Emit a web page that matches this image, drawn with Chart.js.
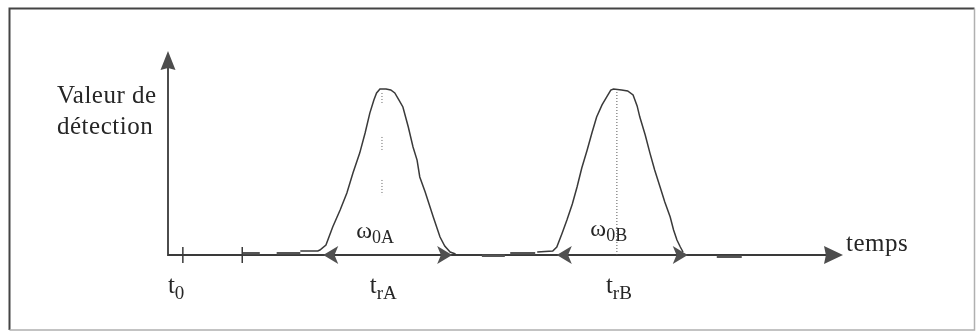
<!DOCTYPE html>
<html>
<head>
<meta charset="UTF-8">
<title>Chromatogramme</title>
<script src="https://cdn.jsdelivr.net/npm/chart.js"></script>
<style>
  html, body { margin: 0; padding: 0; background: #fff; }
  #wrap { width: 976px; height: 332px; }
</style>
</head>
<body>
<div id="wrap"><canvas id="chromato" width="976" height="332"></canvas></div>
<script>
// pic A : temps (u.a.) et valeur de détection
const tempsA = [19.6, 22.2, 22.5, 23.4, 24.4, 25.5, 26.5, 27.4, 28.4, 29.2, 29.9, 30.5, 30.9, 31.4, 32.3, 33.0, 33.6, 34.2, 34.8, 35.6, 36.3, 36.9, 37.3, 38.1, 39.3, 40.3, 41.0, 41.8, 42.6];
const signalA = [2.4, 2.4, 3.0, 6.0, 16.9, 27.1, 37.3, 49.4, 61.4, 73.5, 85.5, 93.4, 97.6, 100, 100, 99.4, 97.6, 93.4, 89.2, 77.1, 65.1, 57.2, 47.0, 38.0, 22.9, 10.8, 5.4, 1.8, 0.6];

// pic B
const tempsB = [54.7, 57.0, 57.6, 58.4, 59.1, 59.9, 60.6, 61.3, 62.1, 62.8, 63.5, 64.3, 65.0, 65.6, 66.0, 67.2, 68.1, 68.9, 69.5, 69.9, 70.7, 71.4, 72.1, 72.9, 73.6, 74.4, 74.9, 75.4, 75.9, 76.3];
const signalB = [1.8, 2.4, 4.8, 13.3, 21.1, 30.7, 41.0, 52.4, 63.3, 73.5, 83.1, 90.4, 95.2, 99.4, 100, 99.4, 98.8, 96.4, 89.8, 83.1, 72.3, 61.4, 51.2, 41.0, 31.9, 22.9, 15.1, 9.0, 4.8, 1.8];

// petits traits épais le long de la ligne de base
const traitsX = [11.1, 13.6, null, 16.1, 19.6, null, 46.5, 49.9, null, 50.7, 54.4, null, 81.3, 85.0];
const traitsY = [1.0, 1.0, null, 1.0, 1.0, null, -0.5, -0.5, null, 1.0, 1.0, null, -1.0, -1.0];

// repères sur l'axe des temps
const graduations = [2.2, 11.0];
const tempsRetention = [31.7, 66.5];
const etiquettesTemps = [['t', '0'], ['t', 'rA'], ['t', 'rB']];
const posEtiquettesTemps = [1.2, 31.9, 66.8];

// largeurs de pic à la base (début, fin)
const largeurA = [23.0, 42.1];
const largeurB = [57.6, 77.0];
const etiquettesLargeur = [['ω', '0A'], ['ω', '0B']];
const posLargeurX = [30.7, 65.3];
const posLargeurY = [13.9, 15.0];

// pointillés sous les sommets
const pointillesAy = [97.6, 91.6, null, 71.1, 63.3, null, 45.2, 36.1];
const pointillesBy = [100, 0];

const xMax = 100;
const yMax = 122.9;

const trait = '#3a3a3a';
const texte = '#262626';
const police = '"Liberation Serif", serif';

const toPts = (xs, ys) => xs.map((x, i) => ({ x: x, y: ys[i] }));

function fleche(ctx, x, y, dx, dy, L, H, creux) {
  // pointe en (x, y), orientée selon (dx, dy)
  const px = -dy, py = dx;
  ctx.beginPath();
  ctx.moveTo(x, y);
  ctx.lineTo(x - dx * L + px * H, y - dy * L + py * H);
  ctx.lineTo(x - dx * L * creux, y - dy * L * creux);
  ctx.lineTo(x - dx * L - px * H, y - dy * L - py * H);
  ctx.closePath();
  ctx.fill();
}

function indice(ctx, x, y, base, sub, taille, centre) {
  const tSub = Math.round(taille * 0.75);
  ctx.font = taille + 'px ' + police;
  const w1 = ctx.measureText(base).width;
  ctx.font = tSub + 'px ' + police;
  const w2 = ctx.measureText(sub).width;
  const x0 = centre ? x - (w1 + w2) / 2 : x;
  ctx.font = taille + 'px ' + police;
  ctx.fillText(base, x0, y);
  ctx.font = tSub + 'px ' + police;
  ctx.fillText(sub, x0 + w1, y + taille * 0.22);
}

const schema = {
  id: 'schema',
  beforeDraw(chart) {
    const ctx = chart.ctx;
    ctx.save();
    ctx.fillStyle = '#fff';
    ctx.fillRect(0, 0, chart.width, chart.height);
    // cadre
    ctx.strokeStyle = '#444';
    ctx.lineWidth = 2;
    ctx.beginPath();
    ctx.moveTo(974.5, 8.5);
    ctx.lineTo(9.5, 8.5);
    ctx.lineTo(9.5, 330);
    ctx.stroke();
    ctx.strokeStyle = '#b0b0b0';
    ctx.lineWidth = 1.5;
    ctx.beginPath();
    ctx.moveTo(9.5, 330);
    ctx.lineTo(974.5, 330);
    ctx.lineTo(974.5, 8.5);
    ctx.stroke();
    ctx.restore();
  },
  beforeDatasetsDraw(chart) {
    const ctx = chart.ctx;
    const xs = chart.scales.x, ys = chart.scales.y;
    const x0 = xs.getPixelForValue(0), y0 = ys.getPixelForValue(0);
    const xEnd = xs.getPixelForValue(xMax), yEnd = ys.getPixelForValue(yMax);
    ctx.save();
    ctx.strokeStyle = trait;
    ctx.fillStyle = '#4d4d4d';
    ctx.lineWidth = 1.8;
    ctx.beginPath();
    ctx.moveTo(x0, yEnd + 15);
    ctx.lineTo(x0, y0);
    ctx.lineTo(xEnd - 15, y0);
    ctx.stroke();
    fleche(ctx, x0, yEnd, 0, -1, 19, 7.5, 0.9);
    fleche(ctx, xEnd, y0, 1, 0, 19, 9, 0.9);
    // graduations
    ctx.lineWidth = 1.5;
    graduations.forEach(t => {
      const px = xs.getPixelForValue(t);
      ctx.beginPath();
      ctx.moveTo(px, y0 - 8);
      ctx.lineTo(px, y0 + 8);
      ctx.stroke();
    });
    ctx.restore();
  },
  afterDatasetsDraw(chart) {
    const ctx = chart.ctx;
    const xs = chart.scales.x, ys = chart.scales.y;
    const y0 = ys.getPixelForValue(0);
    ctx.save();
    ctx.fillStyle = '#505050';
    [largeurA, largeurB].forEach(([a, b]) => {
      fleche(ctx, xs.getPixelForValue(a), y0, -1, 0, 15, 9, 0.75);
      fleche(ctx, xs.getPixelForValue(b), y0, 1, 0, 15, 9, 0.75);
    });

    ctx.fillStyle = texte;
    ctx.textBaseline = 'alphabetic';
    ctx.textAlign = 'left';
    ctx.letterSpacing = '0.5px';
    ctx.font = '25px ' + police;
    ctx.fillText('Valeur de', 57, 103);
    ctx.fillText('détection', 57, 134);
    ctx.fillText('temps', xs.getPixelForValue(xMax) + 3, y0 - 4);

    ctx.letterSpacing = '0px';
    etiquettesTemps.forEach(([b, s], i) => {
      indice(ctx, xs.getPixelForValue(posEtiquettesTemps[i]), y0 + 38, b, s, 25, true);
    });
    etiquettesLargeur.forEach(([b, s], i) => {
      indice(ctx, xs.getPixelForValue(posLargeurX[i]), ys.getPixelForValue(posLargeurY[i]) + 6, b, s, 24, true);
    });
    ctx.restore();
  }
};

new Chart(document.getElementById('chromato'), {
  type: 'line',
  data: {
    datasets: [
      { data: toPts(tempsA, signalA), borderColor: trait, borderWidth: 1.5 },
      { data: toPts(tempsB, signalB), borderColor: trait, borderWidth: 1.5 },
      { data: toPts(traitsX, traitsY), borderColor: '#555', borderWidth: 2.5 },
      { data: toPts([31.7, 31.7, null, 31.7, 31.7, null, 31.7, 31.7], pointillesAy), borderColor: '#666', borderWidth: 1, borderDash: [1, 2] },
      { data: toPts([tempsRetention[1], tempsRetention[1]], pointillesBy), borderColor: '#555', borderWidth: 1, borderDash: [1, 2] }
    ]
  },
  options: {
    responsive: false,
    animation: false,
    devicePixelRatio: 1,
    parsing: false,
    spanGaps: false,
    layout: { padding: { left: 168, right: 133, top: 51, bottom: 77 } },
    elements: { point: { radius: 0 }, line: { tension: 0, fill: false } },
    datasets: { line: { clip: false } },
    scales: {
      x: { type: 'linear', min: 0, max: xMax, display: false },
      y: { type: 'linear', min: 0, max: yMax, display: false }
    },
    plugins: { legend: { display: false }, tooltip: { enabled: false } }
  },
  plugins: [schema]
});
</script>
</body>
</html>
